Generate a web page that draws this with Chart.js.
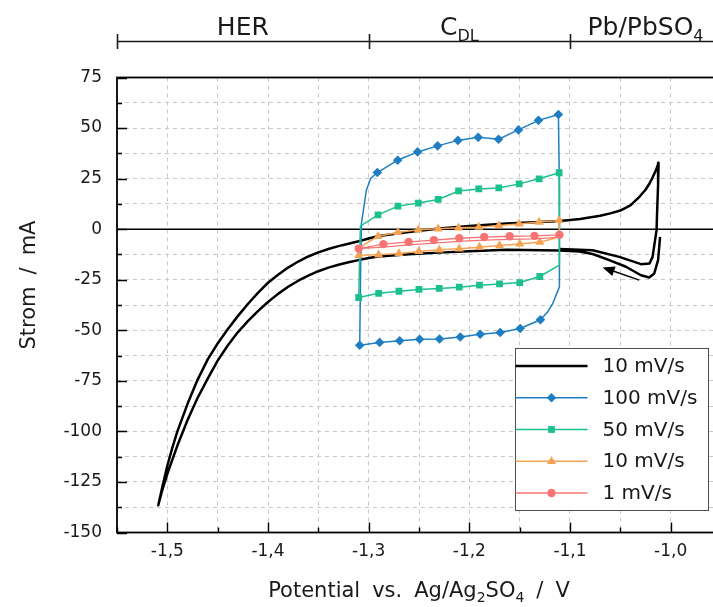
<!DOCTYPE html>
<html>
<head>
<meta charset="utf-8">
<script src="https://cdn.jsdelivr.net/npm/chart.js@4/dist/chart.umd.min.js"></script>
<style>
  html, body { margin: 0; padding: 0; background: #fff; overflow: hidden; width: 713px; height: 607px; }
  canvas { display: block; }
</style>
</head>
<body>
<canvas id="cv" width="730" height="607"></canvas>
<script>
// Cyclic voltammograms of the negative (Pb) electrode in the double-layer window
const FONT = "'DejaVu Sans', 'Liberation Sans', sans-serif";

// axis range and tick positions
const xTickValues = [-1.55, -1.50, -1.45, -1.40, -1.35, -1.30, -1.25, -1.20, -1.15, -1.10, -1.05, -1.00, -0.95];
const xLabelValues = [-1.5, -1.4, -1.3, -1.2, -1.1, -1.0];
const yTickValues = [-150, -137.5, -125, -112.5, -100, -87.5, -75, -62.5, -50, -37.5, -25, -12.5, 0, 12.5, 25, 37.5, 50, 62.5, 75];
const yLabelValues = [-150, -125, -100, -75, -50, -25, 0, 25, 50, 75];

// potential regions shown on the upper bar
const regionBounds = [-1.55, -1.30, -1.10, -0.95];
const regionCenters = [-1.425, -1.21, -1.025];
const regionTexts = [
  [['HER', 0]],
  [['C', 0], ['DL', 1]],
  [['Pb/PbSO', 0], ['4', 1]]
];

// legend labels
const seriesLabels = ['10 mV/s', '100 mV/s', '50 mV/s', '10 mV/s', '1 mV/s'];

// wide scan, 10 mV/s: [potential V, current mA]
const scanWide10 = [
  // start near the reversal point, cathodic sweep
  [-1.0105, -3.8], [-1.0125, -15.3], [-1.0163, -21.9], [-1.0213, -23.9], [-1.0295, -22.8],
  [-1.0444, -18.6], [-1.0610, -15.3], [-1.0775, -12.3], [-1.0907, -11.0], [-1.1105, -10.6],
  [-1.1630, -10.2], [-1.2000, -10.9], [-1.2300, -11.6], [-1.2600, -12.4], [-1.2900, -13.5],
  [-1.3000, -14.3], [-1.3100, -15.3], [-1.3200, -16.4], [-1.3300, -17.6], [-1.3400, -19.0],
  [-1.3500, -20.8], [-1.3600, -23.0], [-1.3700, -25.5], [-1.3800, -28.5], [-1.3900, -32.0],
  [-1.4000, -36.0], [-1.4100, -40.5], [-1.4200, -45.5], [-1.4300, -51.0], [-1.4400, -57.5],
  [-1.4500, -65.0], [-1.4600, -74.0], [-1.4700, -83.5], [-1.4800, -94.5], [-1.4900, -107.0],
  [-1.4950, -114.0], [-1.5000, -121.0], [-1.5050, -129.0], [-1.5090, -136.5],
  // anodic sweep
  [-1.5050, -127.5], [-1.5000, -117.0], [-1.4950, -108.0], [-1.4900, -100.0], [-1.4800, -86.5],
  [-1.4700, -74.5], [-1.4600, -64.5], [-1.4500, -56.5], [-1.4400, -49.5], [-1.4300, -43.0],
  [-1.4200, -37.0], [-1.4100, -31.5], [-1.4000, -26.5], [-1.3900, -22.5], [-1.3800, -19.0],
  [-1.3700, -16.0], [-1.3600, -13.5], [-1.3500, -11.5], [-1.3400, -9.8], [-1.3300, -8.4],
  [-1.3200, -7.2], [-1.3100, -6.0], [-1.3000, -4.6], [-1.2900, -3.4], [-1.2600, -1.4],
  [-1.2300, 0.3], [-1.2000, 1.6], [-1.1630, 2.8], [-1.1300, 3.5], [-1.1100, 4.0],
  [-1.0900, 5.0], [-1.0700, 6.6], [-1.0600, 7.8], [-1.0500, 9.2], [-1.0400, 11.8],
  [-1.0310, 16.0], [-1.0250, 19.5], [-1.0210, 22.6], [-1.0180, 25.5], [-1.0146, 29.2],
  [-1.0120, 32.8],
  // reversal and return
  [-1.0125, 22.0], [-1.0135, 8.0], [-1.0140, -0.5], [-1.0180, -13.7],
  [-1.0210, -17.0], [-1.0295, -17.3], [-1.0510, -13.7], [-1.0775, -10.4], [-1.1105, -9.8]
];

// double-layer scans: [potential V, current mA, 1 = marker]
const scan100 = [
  [-1.3089, -57.4, 1], [-1.3080, -20.0, 0], [-1.3072, 2.8, 0], [-1.3023, 19.3, 0], [-1.2980, 25.1, 0],
  [-1.2914, 28.0, 1], [-1.2712, 34.1, 1], [-1.2514, 38.2, 1], [-1.2315, 41.2, 1], [-1.2114, 43.9, 1],
  [-1.1912, 45.4, 1], [-1.1710, 44.5, 1], [-1.1512, 49.1, 1], [-1.1313, 53.8, 1], [-1.1115, 56.7, 1],
  [-1.1105, 20.0, 0], [-1.1105, -28.5, 0], [-1.1172, -36.8, 0], [-1.1221, -40.9, 0],
  [-1.1294, -44.8, 1], [-1.1495, -49.1, 1], [-1.1693, -51.1, 1], [-1.1892, -52.0, 1], [-1.2090, -53.3, 1],
  [-1.2296, -54.3, 1], [-1.2494, -54.4, 1], [-1.2692, -55.2, 1], [-1.2891, -56.0, 1], [-1.3089, -57.4, 0]
];

const scan50 = [
  [-1.3099, -33.8, 1], [-1.3082, 1.5, 0],
  [-1.2907, 7.1, 1], [-1.2709, 11.4, 1], [-1.2507, 12.9, 1], [-1.2309, 14.7, 1], [-1.2107, 18.9, 1],
  [-1.1906, 19.9, 1], [-1.1707, 20.4, 1], [-1.1505, 22.4, 1], [-1.1307, 24.9, 1], [-1.1108, 27.9, 1],
  [-1.1105, -17.8, 0],
  [-1.1300, -23.4, 1], [-1.1499, -26.4, 1], [-1.1700, -27.1, 1], [-1.1899, -27.7, 1], [-1.2100, -28.7, 1],
  [-1.2299, -29.3, 1], [-1.2501, -29.8, 1], [-1.2699, -30.7, 1], [-1.2901, -31.7, 1], [-1.3099, -33.8, 0]
];

const scan10 = [
  [-1.3099, -12.9, 1], [-1.3090, -9.0, 0],
  [-1.2907, -3.5, 1], [-1.2709, -1.6, 1], [-1.2507, -0.3, 1], [-1.2309, 0.2, 1], [-1.2107, 0.7, 1],
  [-1.1906, 1.0, 1], [-1.1707, 1.8, 1], [-1.1505, 2.6, 1], [-1.1307, 3.5, 1], [-1.1108, 4.3, 1],
  [-1.1105, -1.0, 0], [-1.1150, -4.5, 0],
  [-1.1300, -6.4, 1], [-1.1499, -7.3, 1], [-1.1700, -8.1, 1], [-1.1899, -8.9, 1], [-1.2100, -9.7, 1],
  [-1.2299, -10.2, 1], [-1.2501, -11.0, 1], [-1.2699, -12.0, 1], [-1.2901, -12.7, 1], [-1.3099, -12.9, 0]
];

const scan1 = [
  [-1.3099, -9.6, 1], [-1.2854, -7.4, 1], [-1.2603, -6.3, 1], [-1.2352, -5.4, 1], [-1.2100, -4.5, 1],
  [-1.1852, -3.9, 1], [-1.1600, -3.5, 1], [-1.1353, -3.3, 1], [-1.1105, -2.8, 1],
  [-1.1105, -4.0, 0], [-1.1353, -4.8, 0], [-1.1600, -5.0, 0], [-1.1852, -5.4, 0], [-1.2100, -6.0, 0],
  [-1.2352, -6.9, 0], [-1.2603, -7.8, 0], [-1.2854, -8.9, 0], [-1.3099, -9.6, 0]
];

// scan direction arrow (potential V, current mA)
const arrowFrom = [-1.0312, -25.2];
const arrowTo = [-1.0676, -18.9];

const toPoints = arr => arr.map(p => ({ x: p[0], y: p[1], m: p[2] === 1 }));

function loopDataset(label, pts, color, style, radius, width, order) {
  return {
    label, data: toPoints(pts), showLine: true,
    borderColor: color, backgroundColor: color, borderWidth: width,
    pointStyle: style, markerRadius: radius,
    pointRadius: c => (c.raw && c.raw.m) ? radius : 0,
    pointBorderWidth: 0, pointBackgroundColor: color,
    tension: 0, order
  };
}

const datasets = [
  {
    label: seriesLabels[0], data: toPoints(scanWide10), showLine: true,
    borderColor: '#000000', backgroundColor: '#000000', borderWidth: 2.5,
    borderJoinStyle: 'round',
    pointRadius: 0, markerRadius: 0, pointStyle: false, tension: 0, order: 5
  },
  loopDataset(seriesLabels[1], scan100, '#1f7ec2', 'rectRot', 4.8, 1.5, 4),
  loopDataset(seriesLabels[2], scan50, '#1cbf8e', 'rect', 4.8, 1.5, 3),
  loopDataset(seriesLabels[3], scan10, '#f5a352', 'triangle', 5.3, 1.5, 2),
  loopDataset(seriesLabels[4], scan1, '#f87474', 'circle', 4.2, 1.3, 1)
];

const near = (v, list) => list.some(t => Math.abs(t - v) < 1e-6);

// text with subscripts; spaces are drawn as a fixed gap
function richLayout(ctx, parts, size, subSize, space) {
  const items = [];
  let w = 0;
  parts.forEach(([txt, sub]) => {
    const fs = sub ? subSize : size;
    ctx.font = fs + 'px ' + FONT;
    const words = txt.split(' ');
    words.forEach((word, i) => {
      if (i > 0) w += space;
      if (word.length) {
        const ww = ctx.measureText(word).width;
        items.push({ word, x: w, sub, fs });
        w += ww;
      }
    });
  });
  return { items, width: w };
}
function drawRich(ctx, parts, cx, cy, size, subSize, subDy, space) {
  const lay = richLayout(ctx, parts, size, subSize, space);
  const x0 = cx - lay.width / 2;
  ctx.textBaseline = 'alphabetic';
  ctx.textAlign = 'left';
  const base = cy + size * 0.36;
  lay.items.forEach(it => {
    ctx.font = it.fs + 'px ' + FONT;
    ctx.fillText(it.word, x0 + it.x, base + (it.sub ? subDy : 0));
  });
}

const decor = {
  id: 'decor',
  beforeDatasetsDraw(chart) {
    const { ctx, chartArea: a, scales: { y } } = chart;
    const y0 = y.getPixelForValue(0);
    ctx.save();
    ctx.strokeStyle = '#000';
    ctx.lineWidth = 1.5;
    ctx.beginPath();
    ctx.moveTo(a.left, y0);
    ctx.lineTo(a.right, y0);
    ctx.stroke();
    ctx.restore();
  },
  afterDatasetsDraw(chart) {
    const { ctx, chartArea: a, scales: { x, y } } = chart;
    ctx.save();
    // arrow showing scan direction
    const fx = x.getPixelForValue(arrowFrom[0]), fy = y.getPixelForValue(arrowFrom[1]);
    const tx = x.getPixelForValue(arrowTo[0]), ty = y.getPixelForValue(arrowTo[1]);
    const ang = Math.atan2(ty - fy, tx - fx);
    const hl = 12, hw = 5;
    ctx.strokeStyle = '#000';
    ctx.fillStyle = '#000';
    ctx.lineWidth = 1.5;
    ctx.beginPath();
    ctx.moveTo(fx, fy);
    ctx.lineTo(tx - Math.cos(ang) * hl * 0.8, ty - Math.sin(ang) * hl * 0.8);
    ctx.stroke();
    ctx.beginPath();
    ctx.moveTo(tx, ty);
    ctx.lineTo(tx - Math.cos(ang) * hl - Math.sin(ang) * hw, ty - Math.sin(ang) * hl + Math.cos(ang) * hw);
    ctx.lineTo(tx - Math.cos(ang) * hl + Math.sin(ang) * hw, ty - Math.sin(ang) * hl - Math.cos(ang) * hw);
    ctx.closePath();
    ctx.fill();

    // frame
    ctx.lineWidth = 1.8;
    ctx.strokeRect(a.left, a.top, a.right - a.left, a.bottom - a.top);

    // inward tick marks
    ctx.lineWidth = 1.4;
    ctx.beginPath();
    xTickValues.forEach(v => {
      const px = Math.round(x.getPixelForValue(v)) + 0.5;
      const len = near(v, xLabelValues) ? 10 : 5;
      ctx.moveTo(px, a.bottom);
      ctx.lineTo(px, a.bottom - len);
    });
    yTickValues.forEach(v => {
      const py = Math.round(y.getPixelForValue(v)) + 0.5;
      const len = near(v, yLabelValues) ? 10 : 5;
      ctx.moveTo(a.left, py);
      ctx.lineTo(a.left + len, py);
    });
    ctx.stroke();
    ctx.restore();
  },
  afterDraw(chart) {
    const { ctx, scales: { x } } = chart;
    ctx.save();
    ctx.fillStyle = '#1a1a1a';
    ctx.strokeStyle = '#1a1a1a';

    // region bar on top
    const barY = 41.5;
    ctx.lineWidth = 1.6;
    ctx.beginPath();
    ctx.moveTo(x.getPixelForValue(regionBounds[0]), barY);
    ctx.lineTo(x.getPixelForValue(regionBounds[regionBounds.length - 1]), barY);
    regionBounds.forEach(v => {
      const px = Math.round(x.getPixelForValue(v)) + 0.5;
      ctx.moveTo(px, barY - 7.5);
      ctx.lineTo(px, barY + 7.5);
    });
    ctx.stroke();
    regionTexts.forEach((parts, i) => {
      drawRich(ctx, parts, x.getPixelForValue(regionCenters[i]), 26, 25, 16, 6, 6);
    });

    // axis titles
    drawRich(ctx, [['Potential vs. Ag/Ag', 0], ['2', 1], ['SO', 0], ['4', 1], [' / V', 0]],
      419, 589, 21, 14, 5, 12);
    ctx.save();
    ctx.translate(27, 285);
    ctx.rotate(-Math.PI / 2);
    drawRich(ctx, [['Strom / mA', 0]], 0, 0, 21, 14, 5, 12);
    ctx.restore();

    // legend
    const box = { left: 515.5, top: 348.5, right: 708.5, bottom: 510.5 };
    ctx.fillStyle = '#ffffff';
    ctx.fillRect(box.left, box.top, box.right - box.left, box.bottom - box.top);
    ctx.strokeStyle = '#4d4d4d';
    ctx.lineWidth = 1;
    ctx.strokeRect(box.left, box.top, box.right - box.left, box.bottom - box.top);
    const rowH = 31.75, firstRow = 366;
    chart.data.datasets.forEach((ds, i) => {
      const ry = firstRow + i * rowH;
      ctx.strokeStyle = ds.borderColor;
      ctx.lineWidth = ds.borderWidth;
      ctx.beginPath();
      ctx.moveTo(box.left, ry);
      ctx.lineTo(box.left + 72, ry);
      ctx.stroke();
      if (ds.markerRadius > 0) {
        ctx.fillStyle = ds.borderColor;
        Chart.helpers.drawPoint(ctx, { pointStyle: ds.pointStyle, radius: ds.markerRadius, rotation: 0, borderWidth: 0 },
          box.left + 36, ry);
      }
      ctx.fillStyle = '#1a1a1a';
      ctx.font = '20px ' + FONT;
      ctx.textAlign = 'left';
      ctx.textBaseline = 'middle';
      ctx.fillText(ds.label, box.left + 87, ry + 1);
    });
    ctx.restore();
  }
};

Chart.defaults.font.family = FONT;

new Chart(document.getElementById('cv'), {
  type: 'scatter',
  data: { datasets },
  options: {
    responsive: false,
    animation: false,
    devicePixelRatio: 1,
    events: [],
    layout: { padding: { top: 77.5, right: 8, bottom: 0, left: 0 } },
    plugins: { legend: { display: false }, tooltip: { enabled: false } },
    scales: {
      x: {
        type: 'linear', min: -1.55, max: -0.95,
        afterBuildTicks: s => { s.ticks = xTickValues.map(v => ({ value: v })); },
        afterFit: s => { s.height = 74.5; },
        grid: { color: '#c8c8c8', lineWidth: 1, drawTicks: false },
        border: { display: false, dash: [4, 4] },
        ticks: {
          autoSkip: false, maxRotation: 0, padding: 9, color: '#1a1a1a',
          font: { family: FONT, size: 17 },
          callback: v => near(v, xLabelValues) ? v.toFixed(1).replace('.', ',') : ''
        }
      },
      y: {
        type: 'linear', min: -150, max: 75,
        afterBuildTicks: s => { s.ticks = yTickValues.map(v => ({ value: v })); },
        afterFit: s => { s.width = 117; },
        grid: { color: '#c8c8c8', lineWidth: 1, drawTicks: false },
        border: { display: false, dash: [4, 4] },
        ticks: {
          autoSkip: false, padding: 15, color: '#1a1a1a',
          font: { family: FONT, size: 17 },
          callback: v => near(v, yLabelValues) ? String(v) : ''
        }
      }
    }
  },
  plugins: [decor]
});
</script>
</body>
</html>
